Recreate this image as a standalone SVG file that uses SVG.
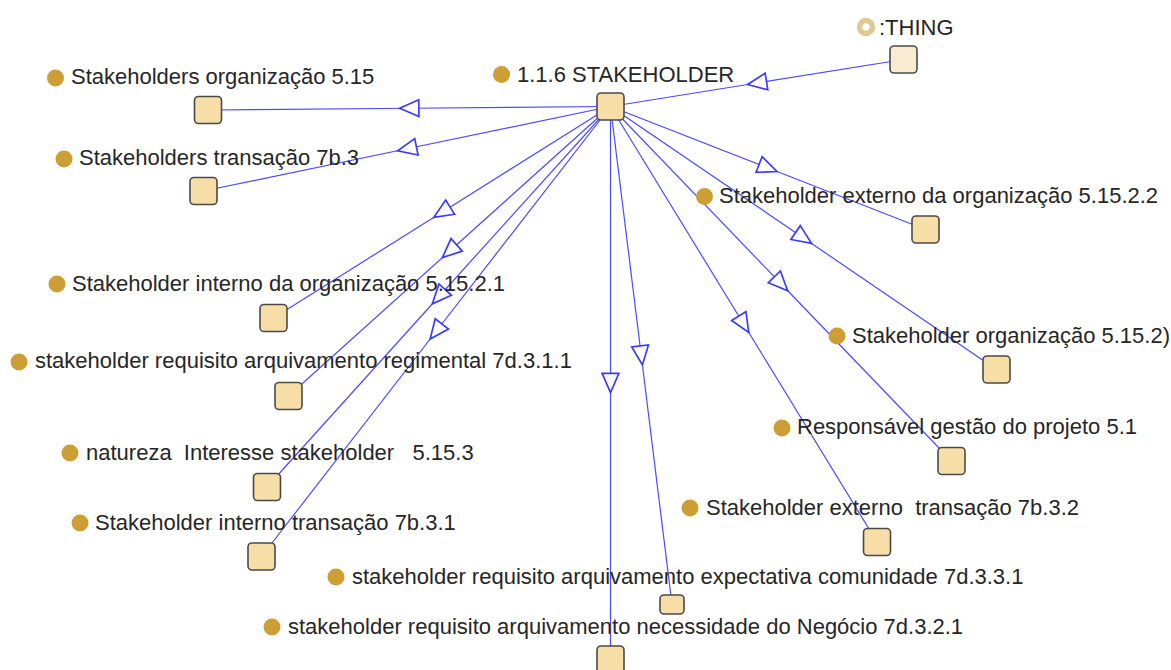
<svg xmlns="http://www.w3.org/2000/svg" width="1171" height="670" viewBox="0 0 1171 670">
  <style>
    .bg { fill: #ffffff; }
    .edge { fill: none; stroke: #4a4aff; stroke-width: 1.2; marker-mid: url(#isa); }
    .box { fill: #f6dea6; stroke: #4a4a4a; stroke-width: 1.6; }
    .box-top { fill: #f9ebd2; stroke: #4a4a4a; stroke-width: 1.6; }
    .dot { fill: #cc9e33; }
    .ring { fill: #ffffff; stroke: #e0c88e; stroke-width: 5.5; }
    .lbl { font-family: "Liberation Sans", Arial, sans-serif; font-size: 22px; fill: #262626; white-space: pre; }
  </style>
  <defs>
    <!-- open "is-a" triangle placed at the middle of each subclass edge -->
    <marker id="isa" markerUnits="userSpaceOnUse" markerWidth="24" markerHeight="24" viewBox="-2 -2 20 18" refX="8" refY="7" orient="auto" overflow="visible">
      <path d="M0,0 L16,7 L0,14 Z" fill="#ffffff" stroke="#3a3aff" stroke-width="1.4" stroke-linejoin="miter"/>
    </marker>
  </defs>
  <rect class="bg" x="0" y="0" width="1171" height="670"/>

  <g id="connectors">
    <path class="edge" d="M903.5,59.5 L757,83 L610.5,106.5"/>
    <path class="edge" d="M610.5,106.5 L409.25,108.25 L208,110"/>
    <path class="edge" d="M610.5,106.5 L407,148.75 L203.5,191"/>
    <path class="edge" d="M610.5,106.5 L442,212.25 L273.5,318"/>
    <path class="edge" d="M610.5,106.5 L449.5,251.25 L288.5,396"/>
    <path class="edge" d="M610.5,106.5 L438.75,296.75 L267,487"/>
    <path class="edge" d="M610.5,106.5 L436,331.5 L261.5,556.5"/>
    <path class="edge" d="M610.5,106.5 L641.25,355.5 L672,604.5"/>
    <path class="edge" d="M610.5,106.5 L610.5,383 L610.5,659.5"/>
    <path class="edge" d="M610.5,106.5 L768,168 L925.5,229.5"/>
    <path class="edge" d="M610.5,106.5 L803.5,238 L996.5,369.5"/>
    <path class="edge" d="M610.5,106.5 L781,283.75 L951.5,461"/>
    <path class="edge" d="M610.5,106.5 L743.75,324.25 L877,542"/>
  </g>

  <g id="thing">
    <circle class="ring" cx="866" cy="27" r="6.4"/>
    <text class="lbl" x="879" y="35">:THING</text>
    <rect class="box-top" x="890" y="46" width="27" height="27" rx="4"/>
  </g>

  <g id="stakeholder">
    <circle class="dot" cx="501.5" cy="74.5" r="8.5"/>
    <text class="lbl" x="517" y="82">1.1.6 STAKEHOLDER</text>
    <rect class="box" x="597" y="93" width="27" height="27" rx="4"/>
  </g>

  <g id="stakeholders-organizacao">
    <circle class="dot" cx="55.5" cy="78" r="8.5"/>
    <text class="lbl" x="71" y="84">Stakeholders organização 5.15</text>
    <rect class="box" x="194.5" y="96.5" width="27" height="27" rx="4"/>
  </g>

  <g id="stakeholders-transacao">
    <circle class="dot" cx="64" cy="159" r="8.5"/>
    <text class="lbl" x="79" y="165">Stakeholders transação 7b.3</text>
    <rect class="box" x="190" y="177.5" width="27" height="27" rx="4"/>
  </g>

  <g id="interno-organizacao">
    <circle class="dot" cx="57" cy="284" r="8.5"/>
    <text class="lbl" x="72" y="291">Stakeholder interno da organização 5.15.2.1</text>
    <rect class="box" x="260" y="304.5" width="27" height="27" rx="4"/>
  </g>

  <g id="arquivamento-regimental">
    <circle class="dot" cx="19" cy="362" r="8.5"/>
    <text class="lbl" x="35" y="368">stakeholder requisito arquivamento regimental 7d.3.1.1</text>
    <rect class="box" x="275" y="382.5" width="27" height="27" rx="4"/>
  </g>

  <g id="natureza-interesse">
    <circle class="dot" cx="70" cy="453" r="8.5"/>
    <text class="lbl" x="86" y="460" xml:space="preserve">natureza  Interesse stakeholder   5.15.3</text>
    <rect class="box" x="253.5" y="473.5" width="27" height="27" rx="4"/>
  </g>

  <g id="interno-transacao">
    <circle class="dot" cx="80" cy="523" r="8.5"/>
    <text class="lbl" x="95" y="530">Stakeholder interno transação 7b.3.1</text>
    <rect class="box" x="248" y="543" width="27" height="27" rx="4"/>
  </g>

  <g id="arquivamento-expectativa">
    <circle class="dot" cx="336" cy="577" r="8.5"/>
    <text class="lbl" x="352" y="584">stakeholder requisito arquivamento expectativa comunidade 7d.3.3.1</text>
    <rect class="box" x="660" y="595" width="24" height="19" rx="4"/>
  </g>

  <g id="arquivamento-necessidade">
    <circle class="dot" cx="272" cy="627" r="8.5"/>
    <text class="lbl" x="288" y="634">stakeholder requisito arquivamento necessidade do Negócio 7d.3.2.1</text>
    <rect class="box" x="597" y="646" width="27" height="27" rx="4"/>
  </g>

  <g id="externo-organizacao">
    <circle class="dot" cx="704.5" cy="196.5" r="8.5"/>
    <text class="lbl" x="719" y="203">Stakeholder externo da organização 5.15.2.2</text>
    <rect class="box" x="912" y="216" width="27" height="27" rx="4"/>
  </g>

  <g id="stakeholder-organizacao">
    <circle class="dot" cx="837" cy="336" r="8.5"/>
    <text class="lbl" x="852" y="343">Stakeholder organização 5.15.2)</text>
    <rect class="box" x="983" y="356" width="27" height="27" rx="4"/>
  </g>

  <g id="responsavel-gestao">
    <circle class="dot" cx="782" cy="428" r="8.5"/>
    <text class="lbl" x="797" y="434">Responsável gestão do projeto 5.1</text>
    <rect class="box" x="938" y="447.5" width="27" height="27" rx="4"/>
  </g>

  <g id="externo-transacao">
    <circle class="dot" cx="690" cy="508" r="8.5"/>
    <text class="lbl" x="706" y="515" xml:space="preserve">Stakeholder externo  transação 7b.3.2</text>
    <rect class="box" x="863.5" y="528.5" width="27" height="27" rx="4"/>
  </g>
</svg>
